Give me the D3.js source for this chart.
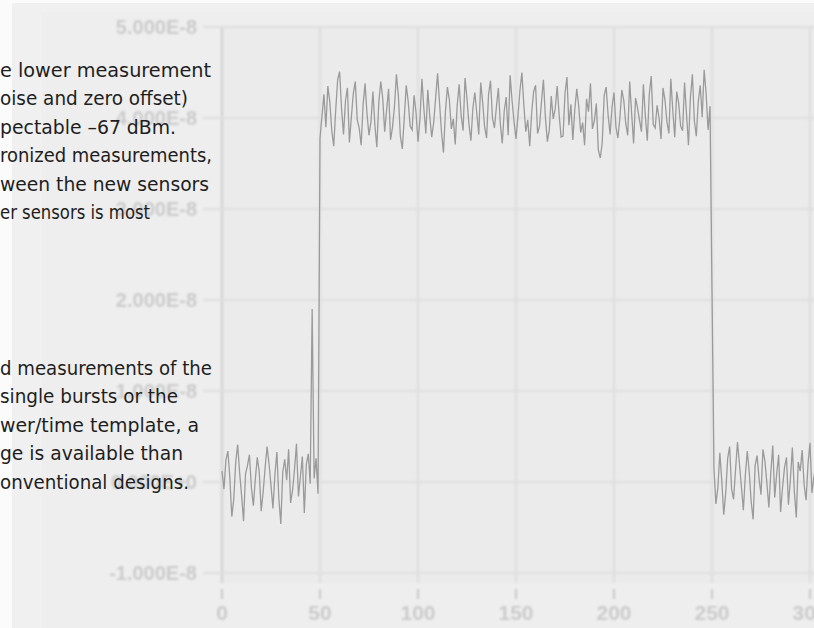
<!DOCTYPE html>
<html>
<head>
<meta charset="utf-8">
<script src="https://cdn.jsdelivr.net/npm/d3@7"></script>
<style>
  html, body { margin: 0; padding: 0; background: #f0f0f0; overflow: hidden; }
  svg { display: block; }
</style>
</head>
<body>
<svg id="chart"></svg>
<script>
// values in units of 1e-9 (so 40 -> 4.0E-8)
const xTicks = [0, 50, 100, 150, 200, 250, 300]
const yTicks = [5e-8, 4e-8, 3e-8, 2e-8, 1e-8, 0, -1e-8]
const yTickLabels = ['5.000E-8', '4.000E-8', '3.000E-8', '2.000E-8', '1.000E-8', '0.000E+0', '-1.000E-8']

// samples 0..49, before the burst
const preBurst = [1.2, -0.8, 2.4, 3.4, 0.5, -3.8, -1.9, 2.2, 4.1, 1.0,
  -1.5, -4.3, 0.9, 1.8, 3.0, -0.6, -2.6, 0.3, 2.7, 1.1,
  -3.2, -1.1, 1.6, 3.9, 2.0, -0.4, -2.9, 0.8, 3.3, -1.8,
  -4.6, 1.1, 2.5, 0.2, 3.6, -2.3, -0.9, 1.4, 4.2, -1.6,
  0.6, 2.8, -3.4, 1.9, 3.1, -0.2, 19.0, 0.4, 2.6, -1.3]

// samples 50..249, burst on
const burst = [37.8, 40.2, 42.6, 39.0, 43.5, 41.8, 38.6, 36.9, 40.8, 44.2,
  45.1, 41.0, 38.2, 41.9, 43.3, 37.3, 40.1, 42.7, 44.0, 39.8,
  38.9, 37.0, 41.5, 43.8, 40.4, 38.1, 39.6, 42.9, 39.2, 36.8,
  41.7, 44.0, 42.2, 38.5, 40.9, 43.2, 37.6, 39.0, 41.3, 44.8,
  42.4, 38.0, 36.6, 40.0, 43.6, 41.8, 39.1, 38.7, 42.5, 40.6,
  37.4, 39.9, 44.3, 41.0, 38.3, 43.1, 40.2, 37.9, 39.5, 42.2,
  44.9, 41.6, 38.4, 36.2, 40.7, 43.4, 42.0, 38.8, 39.9, 37.1,
  41.4, 43.7, 40.3, 38.6, 44.4, 42.1, 39.3, 37.5, 41.1, 42.8,
  40.5, 38.2, 43.9, 41.7, 39.0, 37.8, 42.6, 44.1, 40.0, 38.9,
  41.2, 43.3, 39.4, 37.2, 40.8, 42.3, 38.1, 44.7, 41.9, 39.6,
  37.7, 40.2, 43.0, 45.0, 41.4, 38.5, 39.8, 36.9, 40.6, 42.9,
  43.6, 38.3, 39.1, 41.8, 44.2, 40.1, 37.4, 38.7, 42.4, 39.9,
  41.0, 43.5, 40.4, 37.9, 38.0, 42.7, 44.5, 39.2, 41.5, 37.6,
  40.9, 43.2, 41.3, 38.4, 39.5, 37.0, 42.1, 40.7, 43.8, 38.8,
  39.7, 41.6, 36.5, 35.6, 37.3, 42.5, 43.4, 40.3, 38.2, 41.2,
  42.8, 39.0, 37.8, 40.0, 43.1, 41.9, 39.4, 38.1, 44.0, 40.5,
  37.2, 42.2, 41.1, 39.8, 38.5, 43.7, 40.2, 37.5, 42.6, 44.6,
  39.3, 38.9, 41.4, 40.0, 37.7, 43.3, 42.0, 39.6, 38.3, 44.3,
  40.8, 37.9, 42.9, 41.6, 39.1, 38.6, 43.9, 40.4, 37.0, 42.3,
  44.8, 39.7, 38.0, 41.8, 43.6, 40.1, 45.3, 42.7, 38.7, 41.3]

// samples 250..305, falling edge then off
const postBurst = [21.0,
  1.5, -2.4, -0.6, 3.2, 0.1, -3.6, -1.2, 2.6, 3.9, -0.8,
  -1.9, 1.3, 4.4, 2.0, -0.5, -3.1, 0.7, 3.4, 1.1, -2.2,
  -4.1, 1.8, 2.9, 0.4, -1.4, 3.6, 2.3, -0.1, -2.8, 1.0,
  4.0, -1.7, 0.9, 3.0, -3.3, -0.6, 1.6, 2.7, -2.5, 0.3,
  3.8, -1.0, -3.9, 2.2, 1.2, 3.5, -0.3, -2.0, 2.0, 4.3,
  -1.2, 0.6, 1.9, -2.7, 3.1]

// visible (clipped) text on the left side of the page
const paraOne = ['e lower measurement', 'oise and zero offset)', 'pectable \u201367 dBm.',
  'ronized measurements,', 'ween the new sensors', 'er sensors is most']
const paraOneEnds = [211, 188, 176, 212, 209, 150]
const paraTwo = ['d measurements of the', 'single bursts or the', 'wer/time template, a',
  'ge is available than', 'onventional designs.']
const paraTwoEnds = [212, 178, 199, 183, 189]

class BurstChart {

    constructor(defaultConfig) {
        this.config = {
            parentElement: defaultConfig.parentElement,
            containerWidth: defaultConfig.containerWidth || 814,
            containerHeight: defaultConfig.containerHeight || 628,
            plot: {left: 222, right: 810, top: 27, bottom: 573},
        }
        this.initVis()
    }

    initVis() {
        let vis = this
        let p = vis.config.plot

        vis.svg = d3.select(vis.config.parentElement)
            .attr('width', vis.config.containerWidth)
            .attr('height', vis.config.containerHeight)

        let defs = vis.svg.append('defs')
        defs.append('filter').attr('id', 'soft')
            .append('feGaussianBlur').attr('stdDeviation', 0.9)
        defs.append('filter').attr('id', 'fuzzy')
            .append('feGaussianBlur').attr('stdDeviation', 1.2)
        defs.append('filter').attr('id', 'trace')
            .append('feGaussianBlur').attr('stdDeviation', 0.55)

        // page bits: white margin strips, chart panel
        vis.svg.append('rect').attr('x', 0).attr('y', 0)
            .attr('width', vis.config.containerWidth).attr('height', vis.config.containerHeight)
            .attr('fill', '#f0f0f0')
        vis.svg.append('rect').attr('x', 42).attr('y', 12)
            .attr('width', 800).attr('height', 640).attr('fill', '#eeeeee')
        vis.svg.append('rect').attr('x', 0).attr('y', 0)
            .attr('width', 12).attr('height', vis.config.containerHeight).attr('fill', '#fbfbfb')
        vis.svg.append('rect').attr('x', 0).attr('y', 0)
            .attr('width', vis.config.containerWidth).attr('height', 3).attr('fill', '#fbfbfb')

        vis.x = d3.scaleLinear().domain([0, 300]).range([p.left, p.right])
        vis.y = d3.scaleLinear().domain([-1e-8, 5e-8]).range([p.bottom, p.top])

        vis.chart = vis.svg.append('g').attr('filter', 'url(#soft)')

        vis.chart.append('rect')
            .attr('x', p.left).attr('y', p.top)
            .attr('width', 830 - p.left).attr('height', 583 - p.top)
            .attr('fill', '#ebebeb')

        // grid
        vis.chart.append('g')
            .selectAll('line')
            .data(xTicks)
            .join('line')
                .attr('x1', d => vis.x(d)).attr('x2', d => vis.x(d))
                .attr('y1', p.top).attr('y2', 583)
                .attr('stroke', (d, i) => i == 0 ? '#d2d2d2' : '#dedede')
                .attr('stroke-width', 2.5)

        vis.chart.append('g')
            .selectAll('line')
            .data(yTicks)
            .join('line')
                .attr('x1', 203).attr('x2', 830)
                .attr('y1', d => vis.y(d)).attr('y2', d => vis.y(d))
                .attr('stroke', '#e0e0e0')
                .attr('stroke-width', 2.5)

        // y labels
        vis.svg.append('g')
            .attr('filter', 'url(#fuzzy)')
            .selectAll('text')
            .data(yTicks)
            .join('text')
                .attr('x', 197)
                .attr('y', d => vis.y(d))
                .attr('dy', '0.36em')
                .attr('text-anchor', 'end')
                .attr('font-family', 'Liberation Sans, Arial, sans-serif')
                .attr('font-size', 20)
                .attr('font-weight', 'bold')
                .attr('fill', '#cbcbcb')
                .text((d, i) => yTickLabels[i])

        // x ticks + labels
        let xg = vis.svg.append('g').attr('filter', 'url(#fuzzy)')
        xg.selectAll('line')
            .data(xTicks)
            .join('line')
                .attr('x1', d => vis.x(d)).attr('x2', d => vis.x(d))
                .attr('y1', 589).attr('y2', 599)
                .attr('stroke', '#c8c8c8')
                .attr('stroke-width', 2)
        xg.selectAll('text')
            .data(xTicks)
            .join('text')
                .attr('x', d => vis.x(d))
                .attr('y', 620)
                .attr('text-anchor', 'middle')
                .attr('font-family', 'Liberation Sans, Arial, sans-serif')
                .attr('font-size', 21)
                .attr('font-weight', 'bold')
                .attr('fill', '#cbcbcb')
                .text(d => d)

        // signal trace
        let values = preBurst.concat(burst, postBurst)
        let samples = values.map((v, i) => ({t: i, v: v * 1e-9}))

        vis.svg.append('path')
            .datum(samples)
            .attr('filter', 'url(#trace)')
            .attr('fill', 'none')
            .attr('stroke', '#9a9a9a')
            .attr('stroke-width', 1.3)
            .attr('d', d3.line().x(d => vis.x(d.t)).y(d => vis.y(d.v)))

        // clipped body text
        vis.drawPara(paraOne, paraOneEnds, 77)
        vis.drawPara(paraTwo, paraTwoEnds, 375)
    }

    drawPara(lines, ends, firstBaseline) {
        let vis = this
        vis.svg.append('g')
            .selectAll('text')
            .data(lines)
            .join('text')
                .attr('x', 0)
                .attr('y', (d, i) => firstBaseline + i * 28.4)
                .attr('font-family', 'Liberation Sans Narrow, DejaVu Sans Condensed, sans-serif')
                .attr('font-size', 20)
                .attr('fill', '#1e1e1e')
                .attr('textLength', (d, i) => ends[i])
                .attr('lengthAdjust', 'spacingAndGlyphs')
                .text(d => d)
    }
}

new BurstChart({parentElement: '#chart', containerWidth: 814, containerHeight: 628})
</script>
</body>
</html>
